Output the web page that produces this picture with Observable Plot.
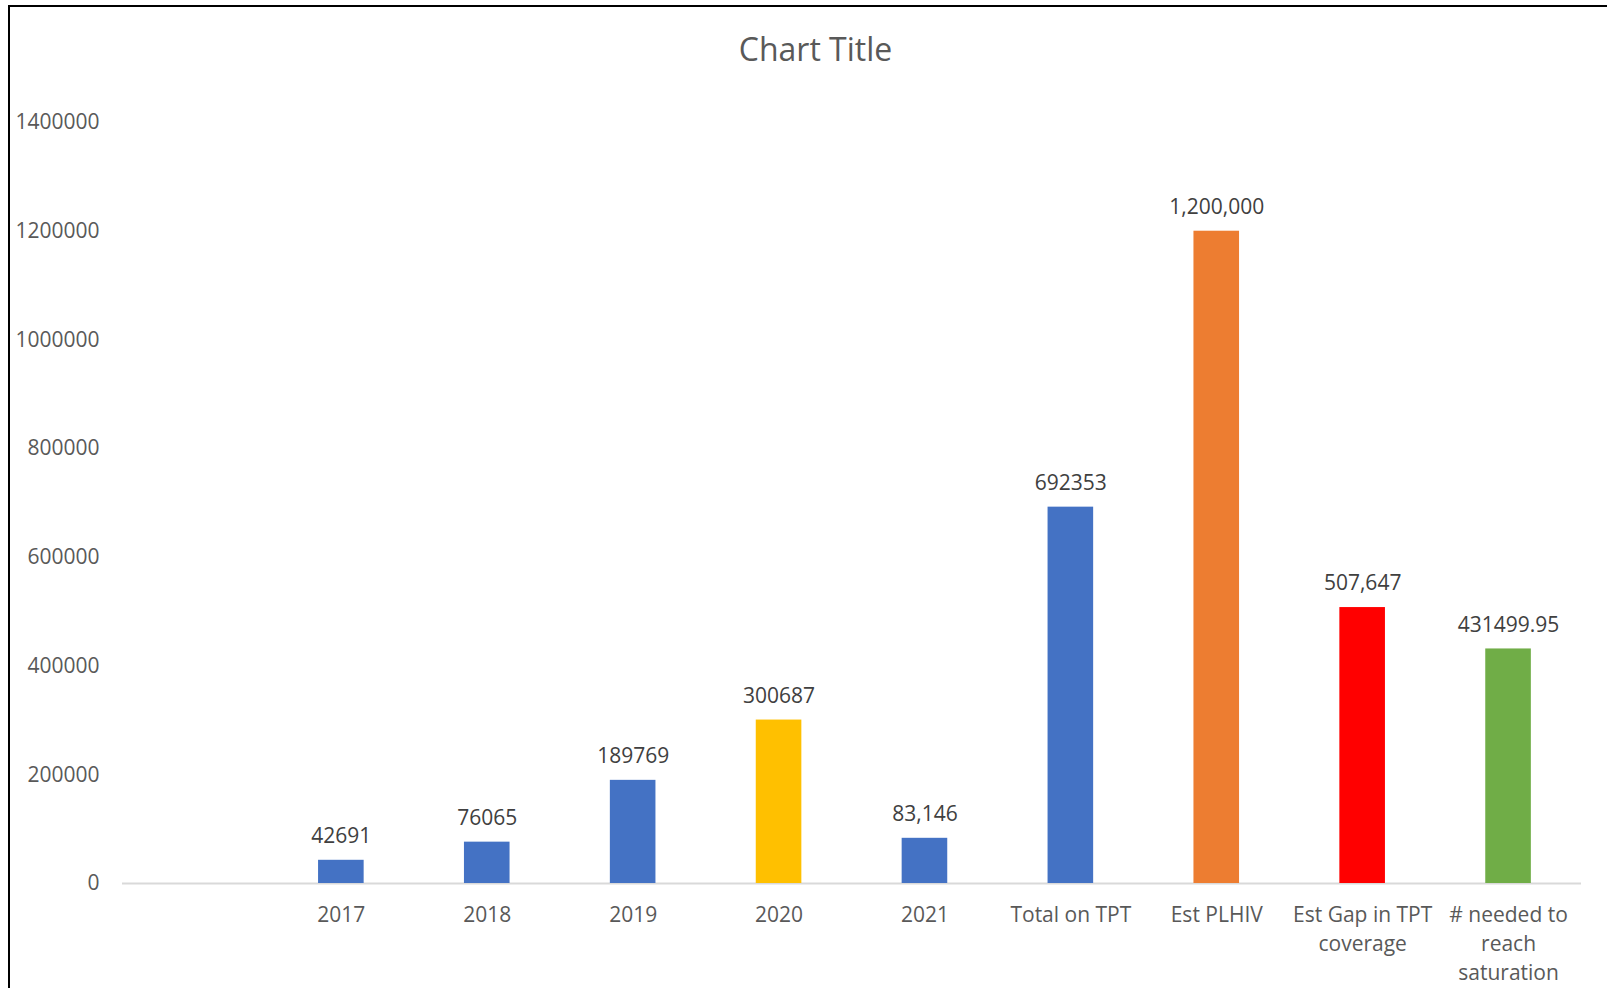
<!DOCTYPE html>
<html>
<head>
<meta charset="utf-8">
<script src="https://cdn.jsdelivr.net/npm/d3@7"></script>
<script src="https://cdn.jsdelivr.net/npm/@observablehq/plot@0.6"></script>
<style>
  html, body { margin: 0; padding: 0; background: #fff; overflow: hidden; }
  #wrap { position: relative; width: 1607px; height: 988px; overflow: hidden; font-family: "Open Sans", sans-serif; }
  #border { position: absolute; left: 7.5px; top: 5px; width: 1700px; height: 1100px; border-top: 2px solid #000; border-left: 2px solid #000; box-sizing: border-box; }
  #title { position: absolute; left: 0; top: 27px; width: 1631px; height: 44px; line-height: 44px; text-align: center; font-size: 32px; color: #595959; }
  #chart { position: absolute; left: 0; top: 80px; }
</style>
</head>
<body>
<div id="wrap">
  <div id="border"></div>
  <div id="title">Chart Title</div>
  <div id="chart"></div>
</div>
<script>
const categories = ["", "2017", "2018", "2019", "2020", "2021", "Total on TPT", "Est PLHIV", "Est Gap in TPT coverage", "# needed to reach saturation"];
const tickLabels = ["", "2017", "2018", "2019", "2020", "2021", "Total on TPT", "Est PLHIV", "Est Gap in TPT\ncoverage", "# needed to\nreach\nsaturation"];
const barCategories = ["2017", "2018", "2019", "2020", "2021", "Total on TPT", "Est PLHIV", "Est Gap in TPT coverage", "# needed to reach saturation"];
const values = [42691, 76065, 189769, 300687, 83146, 692353, 1200000, 507647, 431499.95];
const valueLabels = ["42691", "76065", "189769", "300687", "83,146", "692353", "1,200,000", "507,647", "431499.95"];
const barColors = ["#4472C4", "#4472C4", "#4472C4", "#FFC000", "#4472C4", "#4472C4", "#ED7D31", "#FF0000", "#70AD47"];
const yTicks = [0, 200000, 400000, 600000, 800000, 1000000, 1200000, 1400000];

const rows = barCategories.map((c, i) => ({cat: c, value: values[i], label: valueLabels[i], color: barColors[i]}));
const tickRows = categories.map((c, i) => ({cat: c, label: tickLabels[i]}));

const chart = Plot.plot({
  width: 1607,
  height: 908,
  marginTop: 42,
  marginBottom: 105,
  marginLeft: 122,
  marginRight: 26,
  style: {fontFamily: "Open Sans, sans-serif", fontSize: "21px", color: "#595959", background: "transparent"},
  x: {type: "band", domain: categories, paddingInner: 0.6875, paddingOuter: 0.34375, round: false, axis: null},
  y: {domain: [0, 1400000], axis: null},
  color: {type: "identity"},
  marks: [
    Plot.axisY(yTicks, {tickSize: 0, tickPadding: 23, tickFormat: d => String(d), label: null, fill: "#595959"}),
    Plot.ruleY([0], {stroke: "#d9d9d9", strokeWidth: 2}),
    Plot.barY(rows, {x: "cat", y: "value", fill: "color"}),
    Plot.text(rows, {x: "cat", y: "value", text: "label", dy: -24, fill: "#404040"}),
    Plot.text(tickRows, {x: "cat", text: "label", frameAnchor: "bottom", lineAnchor: "top", dy: 18, lineHeight: 1.38, fill: "#595959"})
  ]
});
document.getElementById("chart").appendChild(chart);
</script>
</body>
</html>
